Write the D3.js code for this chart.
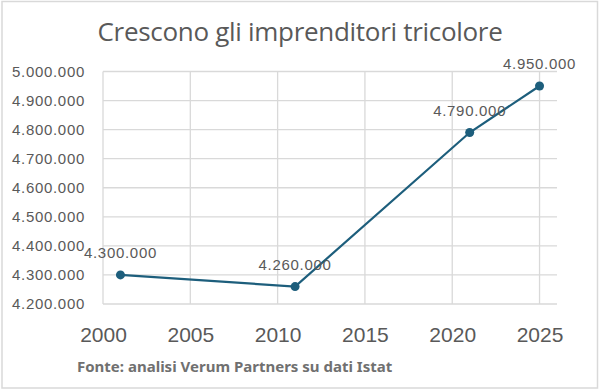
<!DOCTYPE html>
<html><head><meta charset="utf-8">
<script src="https://cdn.jsdelivr.net/npm/d3@7"></script>
<style>body{margin:0;background:#fff}svg{display:block}</style>
</head><body>
<svg id="c" width="600" height="390"></svg>
<script>
const years = [2001, 2011, 2021, 2025];
const values = [4300000, 4260000, 4790000, 4950000];
const yTicks = [4200000, 4300000, 4400000, 4500000, 4600000, 4700000, 4800000, 4900000, 5000000];
const xTicks = [2000, 2005, 2010, 2015, 2020, 2025];
const title = "Crescono gli imprenditori tricolore";
const source = "Fonte: analisi Verum Partners su dati Istat";

const svg = d3.select("#c");
svg.append("rect").attr("x",2).attr("y",1.5).attr("width",595.5).attr("height",386.5)
  .attr("fill","#fff").attr("stroke","#d9d9d9").attr("stroke-width",1.5);

const L=103, R=557, T=71.5, B=304;
const x = d3.scaleLinear().domain([2000,2026]).range([L,R]);
const y = d3.scaleLinear().domain([4200000,5000000]).range([B,T]);
const fmt = v => d3.format(",")(v).replace(/,/g,".");
const numFont = "Arial, 'Liberation Sans', sans-serif";

// grid
svg.append("g").selectAll("line").data(yTicks).join("line")
  .attr("x1",L).attr("x2",R).attr("y1",d=>y(d)).attr("y2",d=>y(d))
  .attr("stroke","#d9d9d9").attr("stroke-width",1.3);
svg.append("g").selectAll("line").data(xTicks).join("line")
  .attr("x1",d=>x(d)).attr("x2",d=>x(d)).attr("y1",T).attr("y2",B)
  .attr("stroke","#d9d9d9").attr("stroke-width",1.3);

// axes labels
const ya = d3.axisLeft(y).tickValues(yTicks).tickFormat(fmt).tickSize(0).tickPadding(18);
const gy = svg.append("g").attr("transform",`translate(${L},0)`).call(ya);
gy.select(".domain").remove();
gy.selectAll("text").attr("font-family",numFont).attr("font-size",15).attr("letter-spacing",0.7).attr("fill","#595959");

const xa = d3.axisBottom(x).tickValues(xTicks).tickFormat(d3.format("d")).tickSize(0).tickPadding(23);
const gx = svg.append("g").attr("transform",`translate(0,${B})`).call(xa);
gx.select(".domain").remove();
gx.selectAll("text").attr("font-family",numFont).attr("font-size",21).attr("fill","#595959");

// line
const data = years.map((yr,i)=>({yr, v:values[i]}));
svg.append("path").datum(data)
  .attr("d", d3.line().x(d=>x(d.yr)).y(d=>y(d.v)))
  .attr("fill","none").attr("stroke","#1d5e7c").attr("stroke-width",2.2);
svg.append("g").selectAll("circle").data(data).join("circle")
  .attr("cx",d=>x(d.yr)).attr("cy",d=>y(d.v)).attr("r",4.5).attr("fill","#1d5e7c");
svg.append("g").selectAll("text").data(data).join("text")
  .attr("x",d=>x(d.yr)).attr("y",d=>y(d.v)-17).attr("text-anchor","middle")
  .attr("font-family",numFont).attr("font-size",15).attr("letter-spacing",0.7).attr("fill","#595959")
  .text(d=>fmt(d.v));

svg.append("text").attr("x",300).attr("y",41).attr("text-anchor","middle")
  .attr("font-family","'Open Sans', 'Noto Sans', sans-serif").attr("font-size",26).attr("fill","#595959")
  .attr("letter-spacing",-0.3).text(title);
svg.append("text").attr("x",77).attr("y",372)
  .attr("font-family","'Noto Sans', 'DejaVu Sans', sans-serif").attr("font-weight","bold").attr("font-size",15).attr("fill","#707070")
  .text(source);
</script>
</body></html>
